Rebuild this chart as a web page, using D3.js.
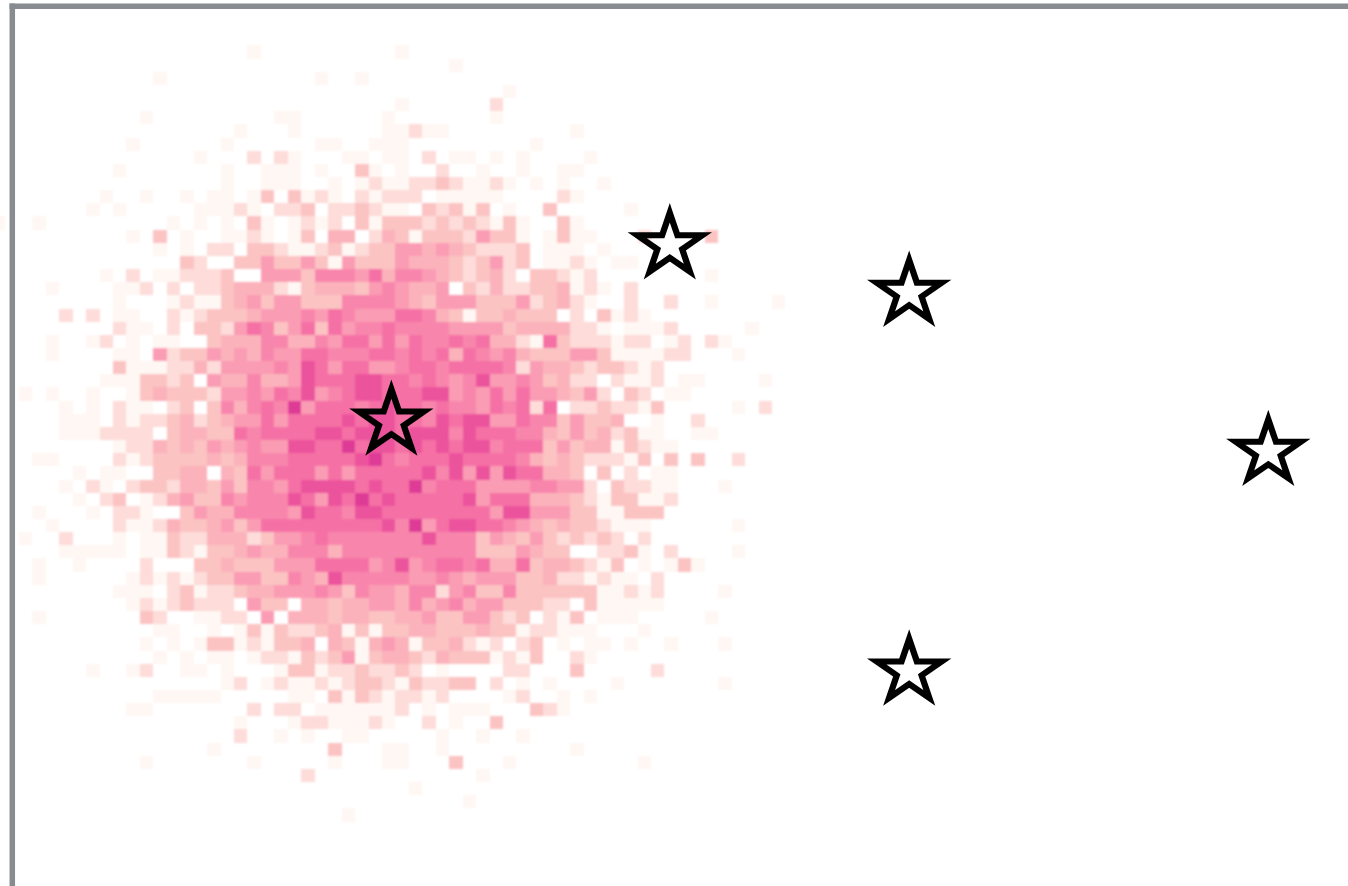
<!DOCTYPE html>
<html>
<head>
<meta charset="utf-8">
<script src="https://cdn.jsdelivr.net/npm/d3@7"></script>
<style>
  html, body { margin: 0; background: #fff; }
  svg { display: block; }
</style>
</head>
<body>
<svg id="chart" width="1348" height="886"></svg>
<script>
// Histogram counts, one string per row, one digit per bin
const binCounts = [
    "", "", "",
    "0000000000 0000000010 0000000001",
    "0000000000 0000000000 0000000000 0001",
    "0000000000 0100000000 0001001000",
    "0000000000 0000000000 0000000000 0000000100",
    "0000000000 0000000000 0000000001 0000002",
    "0000000000 1000000000 1100000010 0000001",
    "0000000000 0000000100 0100000011 2110000000 0010000000",
    "0000000001 0000001000 0001100111 0000000001",
    "0000000000 0000100020 2100011011 0201101010 0001000000",
    "0000000010 0000001001 1101003101 0020010010 0110000000",
    "0000000000 0000001001 1100101211 2232112101 0100100000",
    "0000000100 1001011013 0312102122 2011111000 0210000000",
    "0000001010 0000111210 2230223211 0323130100 3000001000",
    "0010000000 0010101031 0121203133 3232321310 0310000000",
    "0000000001 0301001121 0130440243 1333253310 1311000200 0030000000",
    "0000000000 0101022033 2112312335 5454322230 1110100000",
    "0000000000 0003200335 3353153335 4443235230 1121011000",
    "0000000102 0112223005 5536665746 6543234203 3212000000 0010000000",
    "0001000011 2020223444 2134443565 4450324223 3412102000",
    "0000000010 0012113453 5533366665 4355533352 3421002002 0010000100",
    "0000202011 0021233345 5565765557 7643133433 3020312100",
    "0000000021 1020332576 3573756676 6665555344 4422101112 0000010000",
    "0001001201 0110034446 6446577575 7667674421 7322212201 2021000000",
    "0001000011 0523354546 5577666776 7674765643 3355311112 2000100000",
    "0000000031 1122425555 6587577556 7767777625 4432332120",
    "0000000111 3323054464 4587778877 6765685565 3422021120 1100001000",
    "0101001001 3433325565 7685678877 7885657575 5435203201 1000000000",
    "0000101021 1023036467 6957776787 7676657672 7022322130 0000102000",
    "0000111021 2234234557 5777787887 7687885576 6353340010 0200000000",
    "0000111222 2034433767 7778878887 8886877766 4353423110 0110000000",
    "0000000012 2434354565 5887797887 8787886777 3534413211",
    "0011000021 2333343466 6777778976 7778777764 3432221303 0300200000",
    "0000010110 0334404375 7775757777 7868585877 4430302011",
    "0000102102 3324435366 5788887877 9677755556 6552032211 0001000000",
    "0000010230 1245336566 6875879787 7777857774 4432133112",
    "0010001022 1003544666 6587768877 7777775885 5533113330",
    "0001000021 1243345357 7777777786 9578877654 3433211100 0000100000",
    "0100200010 1132244423 5567666666 6866635435 3232320200",
    "0000111110 1132133454 4666466666 6666633354 3300223102 0000100000",
    "0010010000 2000334333 5557777568 5677674473 4432130101 3100000000",
    "0010000001 2121233553 3654866666 5565455533 4221211020",
    "0000000011 1023122344 5556536554 6625633633 3333112120 0001000000",
    "0000000001 2123222053 3044344554 6456455333 2203111110",
    "0010000000 3200112205 0444344334 4533553230 2130111000 0010000000",
    "0000000000 0110010131 3223413133 4433343312 2111000100",
    "0000000000 1010133121 3340431454 1334212023 0101101001 0001000000",
    "0000000000 0101011012 2132351344 3243331213 0021000000",
    "0000001001 2001101000 1331223223 2010000220 0030000020",
    "0000000000 0000001201 2112123321 3223302010 1000010000 0001000000",
    "0000000000 0111110000 0110313212 2120000120 0101000000",
    "0000000001 1000000020 2201111112 0101110003 2100000000",
    "0000000000 0000000100 0122111210 0201003000",
    "0000000000 0000000200 1010011000 0010010010",
    "0000000000 0000010000 0000300011 0010000000 0010000000",
    "0000000000 1000000010 0000100011 0003000100 0000000100",
    "0000000000 0000000000 0020000000 0000010000",
    "0000000000 0000000000 0000000000 1",
    "0000000000 0000000000 0000000000 0000100000",
    "0000000000 0000000000 0000010000"
];
// One bin sticks out left of the axis
const outsideBin = { col: -1, row: 16, count: 1 };

// Star markers, in bin units
const starX = [28.7, 49.4, 67.2, 93.9, 67.2];
const starY = [31.6, 18.2, 21.8, 33.9, 50.6];

// Position on the RdPu ramp for counts 1 to 9
const countLevels = [1, 2, 3, 4, 5, 6, 7, 8, 9];
const rampStops = [0, 0.14, 0.25, 0.31, 0.375, 0.43, 0.48, 0.55, 0.61];

const width = 1348;
const height = 886;
const svg = d3.select("#chart");

const x = d3.scaleLinear().domain([0, 59]).range([5.35, 5.35 + 59 * 13.45]);
const y = d3.scaleLinear().domain([0, 62]).range([5.95, 5.95 + 62 * 13.155]);
const colorPos = d3.scaleLinear().domain(countLevels).range(rampStops);

// Flatten the rows into a list of filled bins
const cells = binCounts.flatMap((row, j) =>
    Array.from(row.replace(/ /g, ""), (c, k) => ({ col: k, row: j, count: +c }))
).filter(d => d.count > 0);
cells.push(outsideBin);

// Soften the bins a little, the reference is a scaled-up picture
svg.append("defs").append("filter")
    .attr("id", "soft")
    .attr("x", "-2%").attr("y", "-2%").attr("width", "104%").attr("height", "104%")
    .append("feGaussianBlur")
    .attr("stdDeviation", 0.9);

svg.append("g")
    .attr("filter", "url(#soft)")
    .selectAll("rect")
    .data(cells)
    .join("rect")
    .attr("x", d => x(d.col))
    .attr("y", d => y(d.row))
    .attr("width", d => x(d.col + 1) - x(d.col))
    .attr("height", d => y(d.row + 1) - y(d.row))
    .attr("shape-rendering", "crispEdges")
    .attr("fill", d => d3.interpolateRdPu(colorPos(d.count)));

// Stars
const star = d3.symbol().type(d3.symbolStar).size(1190);
svg.append("g")
    .selectAll("path")
    .data(starX.map((v, i) => [v, starY[i]]))
    .join("path")
    .attr("d", star)
    .attr("transform", d => `translate(${x(d[0])},${y(d[1])}) scale(1.05,1)`)
    .attr("fill", "none")
    .attr("stroke", "#000")
    .attr("stroke-width", 6)
    .attr("stroke-miterlimit", 10);

// Only the top and left spines are there
svg.append("line")
    .attr("x1", 9.5).attr("x2", width)
    .attr("y1", 6.3).attr("y2", 6.3)
    .attr("stroke", "#888b90")
    .attr("stroke-width", 5.5);
svg.append("line")
    .attr("x1", 12.3).attr("x2", 12.3)
    .attr("y1", 3.5).attr("y2", height)
    .attr("stroke", "#888b90")
    .attr("stroke-width", 5.5);
</script>
</body>
</html>
